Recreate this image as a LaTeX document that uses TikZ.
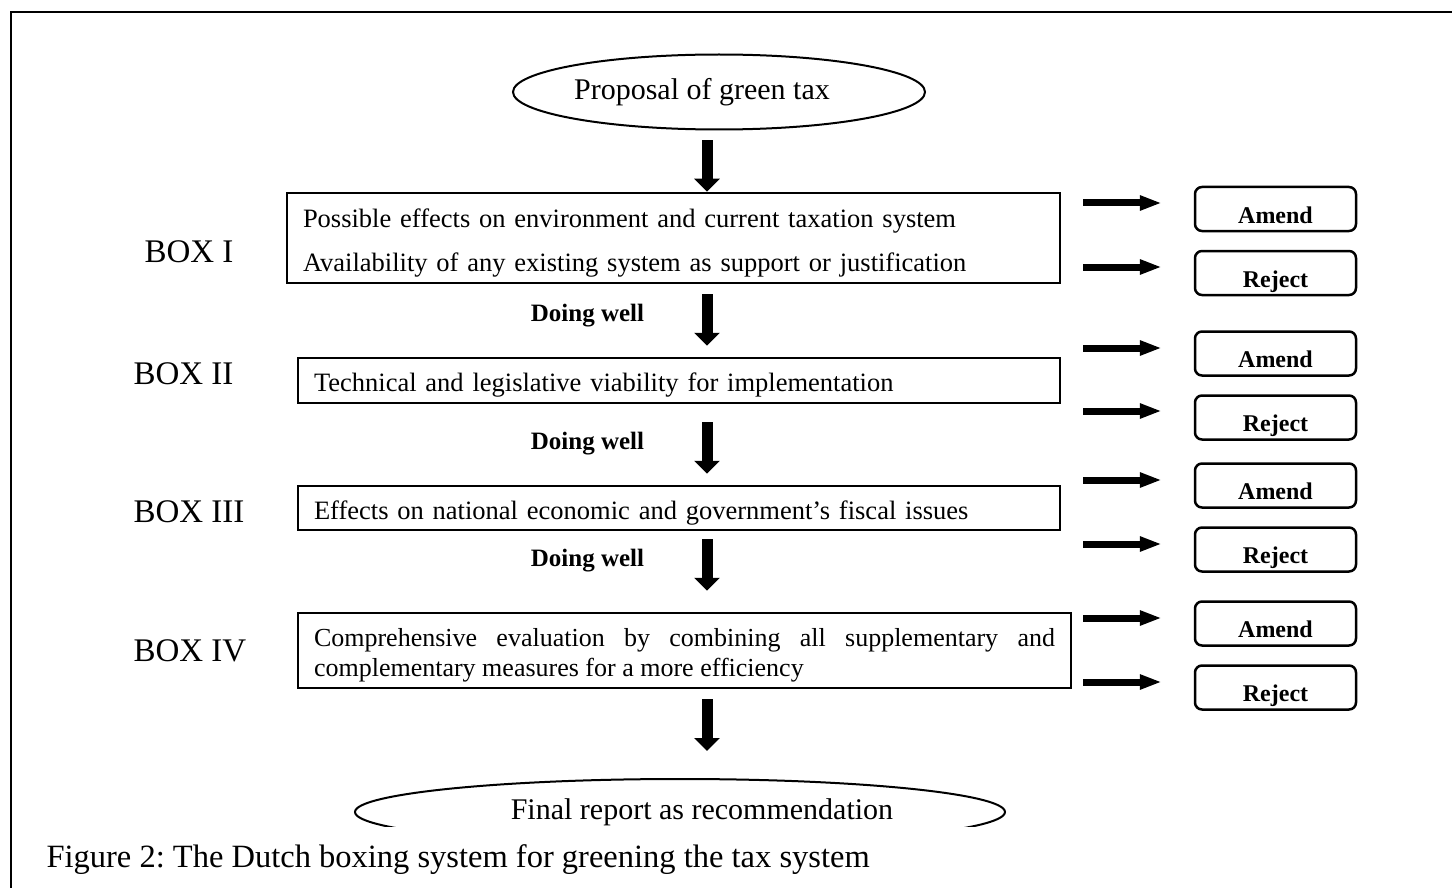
\documentclass[tikz,border=0pt]{standalone}
\usepackage{fontspec}
\setmainfont{Liberation Serif}
\usetikzlibrary{arrows.meta,positioning,shapes.geometric}
\frenchspacing
\newcommand{\firstline}{\rule{0pt}{28pt}}

\begin{document}
\begin{tikzpicture}[
    x=1pt, y=-1pt,
    node distance=17.5pt,
    oval/.style={
      draw,
      ellipse,
      line width=2pt,
      inner sep=0pt,
      font=\fontsize{30}{36}\selectfont
    },
    stage/.style={
      draw,
      line width=2.5pt,
      inner xsep=16pt,
      inner ysep=0pt,
      align=left,
      font=\fontsize{26.5}{44}\selectfont
    },
    boxlabel/.style={anchor=west,font=\fontsize{33}{40}\selectfont},
    pass/.style={font=\bfseries\fontsize{25}{30}\selectfont},
    verdict/.style={
      draw,
      rounded corners=7pt,
      line width=2.5pt,
      minimum width=161pt,
      minimum height=44pt,
      inner sep=0pt,
      text height=28pt,
      text depth=0pt,
      font=\bfseries\fontsize{24}{28}\selectfont
    },
    flow/.style={-{Triangle[length=13pt,width=25pt]},line width=11pt},
    side/.style={-{Triangle[length=22pt,width=14pt]},line width=7pt,shorten >=32pt}
  ]
    \useasboundingbox (0,0) rectangle (1452,888);
    \draw[line width=2pt] (1452,12) -| (11,888);

    \node[oval,minimum width=412pt,minimum height=75pt] (proposal) at (719,92) {\hspace*{-34pt}Proposal of green tax};

    \node[stage,text width=741pt,minimum height=90pt] (boxI) at (673.5,238)
      {\firstline Possible effects on environment and current taxation system\\Availability of any existing system as support or justification};
    \node[stage,text width=730pt,minimum height=45pt] (boxII) at (679,380.5)
      {\firstline Technical and legislative viability for implementation};
    \node[stage,text width=730pt,minimum height=44pt] (boxIII) at (679,508)
      {\firstline Effects on national economic and government’s fiscal issues};
    \node[stage,text width=741pt,minimum height=75pt,align=justify,font=\fontsize{26}{30}\selectfont] (boxIV) at (684.5,650.5)
      {\firstline Comprehensive evaluation by combining all supplementary and\linebreak complementary measures for a more efficiency};

    \node[boxlabel] (labelI) at (141,252) {BOX I};
    \node[boxlabel] (labelII) at (130,374) {BOX II};
    \node[boxlabel] (labelIII) at (130,512) {BOX III};
    \node[boxlabel] (labelIV) at (130,651) {BOX IV};

    \node[pass] (wellI) at (587.5,316) {Doing well};
    \node[pass] (wellII) at (587.5,444) {Doing well};
    \node[pass] (wellIII) at (587.5,561) {Doing well};

    \node[verdict] (amendI) at (1275.5,209) {Amend};
    \node[verdict,below=of amendI] (rejectI) {Reject};
    \node[verdict] (amendII) at (1275.5,353.5) {Amend};
    \node[verdict,below=of amendII] (rejectII) {Reject};
    \node[verdict] (amendIII) at (1275.5,485.5) {Amend};
    \node[verdict,below=of amendIII] (rejectIII) {Reject};
    \node[verdict] (amendIV) at (1275.5,623.5) {Amend};
    \node[verdict,below=of amendIV] (rejectIV) {Reject};

    \begin{scope}
      \clip (0,0) rectangle (1452,826);
      \node[oval,minimum width=650pt,minimum height=66pt] (final) at (680,812) {\hspace*{44pt}Final report as recommendation};
    \end{scope}

    \node[anchor=base west,font=\fontsize{32.5}{38}\selectfont] (caption) at (43,867)
      {Figure 2: The Dutch boxing system for greening the tax system};

    \coordinate (axis) at (707,0);
    \draw[flow,shorten <=10pt] (proposal.south -| axis) -- (boxI.north -| axis);
    \draw[flow,shorten <=10pt,shorten >=11pt] (boxI.south -| axis) -- (boxII.north -| axis);
    \draw[flow,shorten <=18pt,shorten >=11pt] (boxII.south -| axis) -- (boxIII.north -| axis);
    \draw[flow,shorten <=8pt,shorten >=21pt] (boxIII.south -| axis) -- (boxIV.north -| axis);
    \draw[flow,shorten <=10pt,shorten >=27pt] (boxIV.south -| axis) -- (final.north -| axis);

    \foreach \v/\y in {amendI/203,rejectI/267,amendII/348,rejectII/411,amendIII/480,rejectIII/544,amendIV/618,rejectIV/682}{
      \coordinate (from\v) at (1083,\y);
      \draw[side] (from\v) -- (from\v -| \v.west);
    }
  \end{tikzpicture}
\end{document}
